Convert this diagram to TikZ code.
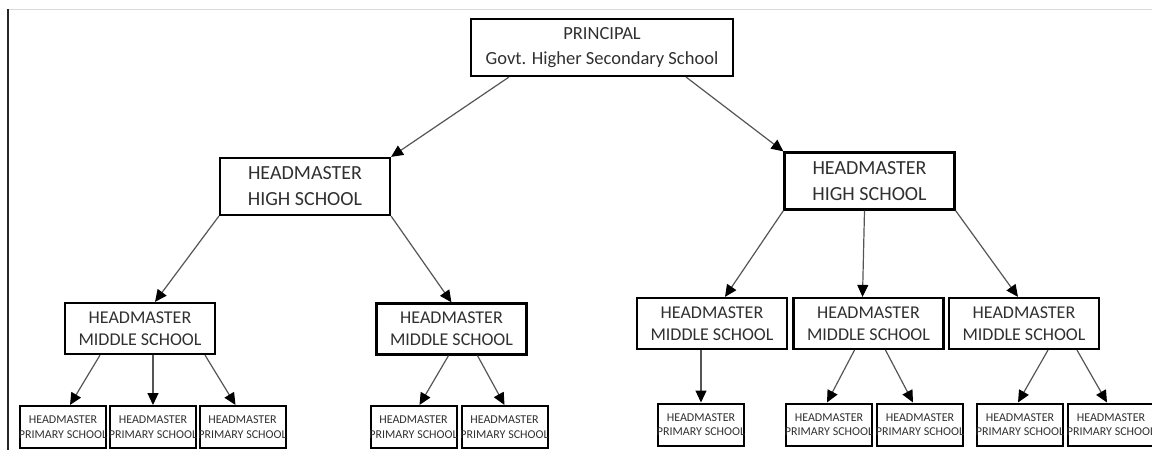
\documentclass[tikz,border=0pt]{standalone}
\usepackage{fontspec}
\setmainfont{Carlito}
\usetikzlibrary{arrows.meta}
\definecolor{txtgray}{HTML}{303030}
\definecolor{linegray}{HTML}{555555}
\newcommand{\nowidth}[1]{\makebox[0pt]{#1}}

\begin{document}
\begin{tikzpicture}[x=1pt, y=-1pt,
  box/.style={draw=black, line width=2.2pt, text=txtgray, inner sep=0pt, align=center},
  chief/.style={box, minimum width=262pt, minimum height=57pt, font=\fontsize{18.5}{25}\selectfont},
  high/.style={box, minimum width=170pt, minimum height=57pt, font=\fontsize{20}{26}\selectfont},
  middle/.style={box, minimum width=150pt, minimum height=51pt, font=\fontsize{18}{22}\selectfont},
  primary/.style={box, line width=2pt, minimum width=86pt, minimum height=42pt, font=\fontsize{12}{14.5}\selectfont},
  link/.style={draw=linegray, line width=1.2pt, -{Triangle[length=12pt,width=11pt,color=black]}}]
  \useasboundingbox (0,0) rectangle (1152,450);
  \draw[line width=0.8pt, black!15] (8,9) -- (1152,9);
  \draw[line width=1.6pt, black!85] (8,9) -- (8,450);

  \node[chief] (prin) at (602,47.5) {PRINCIPAL\\Govt. Higher Secondary School};
  \node[high] (hsl) at (305,186.5) {HEADMASTER\\HIGH SCHOOL};
  \node[high] (hsr) at (869.5,181) {HEADMASTER\\HIGH SCHOOL};

  \node[middle] (msl1) at (140,328.5) {HEADMASTER\\MIDDLE SCHOOL};
  \node[middle] (msl2) at (451.5,329) {HEADMASTER\\MIDDLE SCHOOL};
  \node[middle] (msr1) at (712,323.5) {HEADMASTER\\MIDDLE SCHOOL};
  \node[middle] (msr2) at (868.5,323.5) {HEADMASTER\\MIDDLE SCHOOL};
  \node[middle] (msr3) at (1024,323.5) {HEADMASTER\\MIDDLE SCHOOL};

  \node[primary] (psl1) at (63,427) {\nowidth{HEADMASTER}\\\nowidth{PRIMARY SCHOOL}};
  \node[primary] (psl2) at (153,427) {\nowidth{HEADMASTER}\\\nowidth{PRIMARY SCHOOL}};
  \node[primary] (psl3) at (242.5,427) {\nowidth{HEADMASTER}\\\nowidth{PRIMARY SCHOOL}};
  \node[primary] (psl4) at (413.5,427) {\nowidth{HEADMASTER}\\\nowidth{PRIMARY SCHOOL}};
  \node[primary] (psl5) at (504.5,427) {\nowidth{HEADMASTER}\\\nowidth{PRIMARY SCHOOL}};
  \node[primary] (psr1) at (701,424.5) {\nowidth{HEADMASTER}\\\nowidth{PRIMARY SCHOOL}};
  \node[primary] (psr2) at (829,424.5) {\nowidth{HEADMASTER}\\\nowidth{PRIMARY SCHOOL}};
  \node[primary] (psr3) at (920,424.5) {\nowidth{HEADMASTER}\\\nowidth{PRIMARY SCHOOL}};
  \node[primary] (psr4) at (1020,424.5) {\nowidth{HEADMASTER}\\\nowidth{PRIMARY SCHOOL}};
  \node[primary] (psr5) at (1111,424.5) {\nowidth{HEADMASTER}\\\nowidth{PRIMARY SCHOOL}};

  \draw[link] ([xshift=39pt]prin.south west) -- (hsl.north east);
  \draw[link] ([xshift=-48pt]prin.south east) -- (hsr.north west);

  \draw[link] (hsl.south west) -- ([xshift=15pt]msl1.north);
  \draw[link] (hsl.south east) -- (msl2.north);
  \draw[link] (hsr.south west) -- ([xshift=13pt]msr1.north);
  \draw[link] ([xshift=-5pt]hsr.south) -- ([xshift=-6pt]msr2.north);
  \draw[link] (hsr.south east) -- ([xshift=-6pt]msr3.north);

  \draw[link] ([xshift=-40pt]msl1.south) -- ([xshift=7pt]psl1.north);
  \draw[link] ([xshift=13pt]msl1.south) -- (psl2.north);
  \draw[link] ([xshift=65pt]msl1.south) -- ([xshift=-7pt]psl3.north);
  \draw[link] ([xshift=-3pt]msl2.south) -- ([xshift=6pt]psl4.north);
  \draw[link] ([xshift=26pt]msl2.south) -- (psl5.north);
  \draw[link] ([xshift=-11pt]msr1.south) -- (psr1.north);
  \draw[link] ([xshift=-14pt]msr2.south) -- ([xshift=-2pt]psr2.north);
  \draw[link] ([xshift=17pt]msr2.south) -- ([xshift=-7pt]psr3.north);
  \draw[link] ([xshift=24pt]msr3.south) -- ([xshift=-2pt]psr4.north);
  \draw[link] ([xshift=53pt]msr3.south) -- ([xshift=-4pt]psr5.north);
\end{tikzpicture}
\end{document}
